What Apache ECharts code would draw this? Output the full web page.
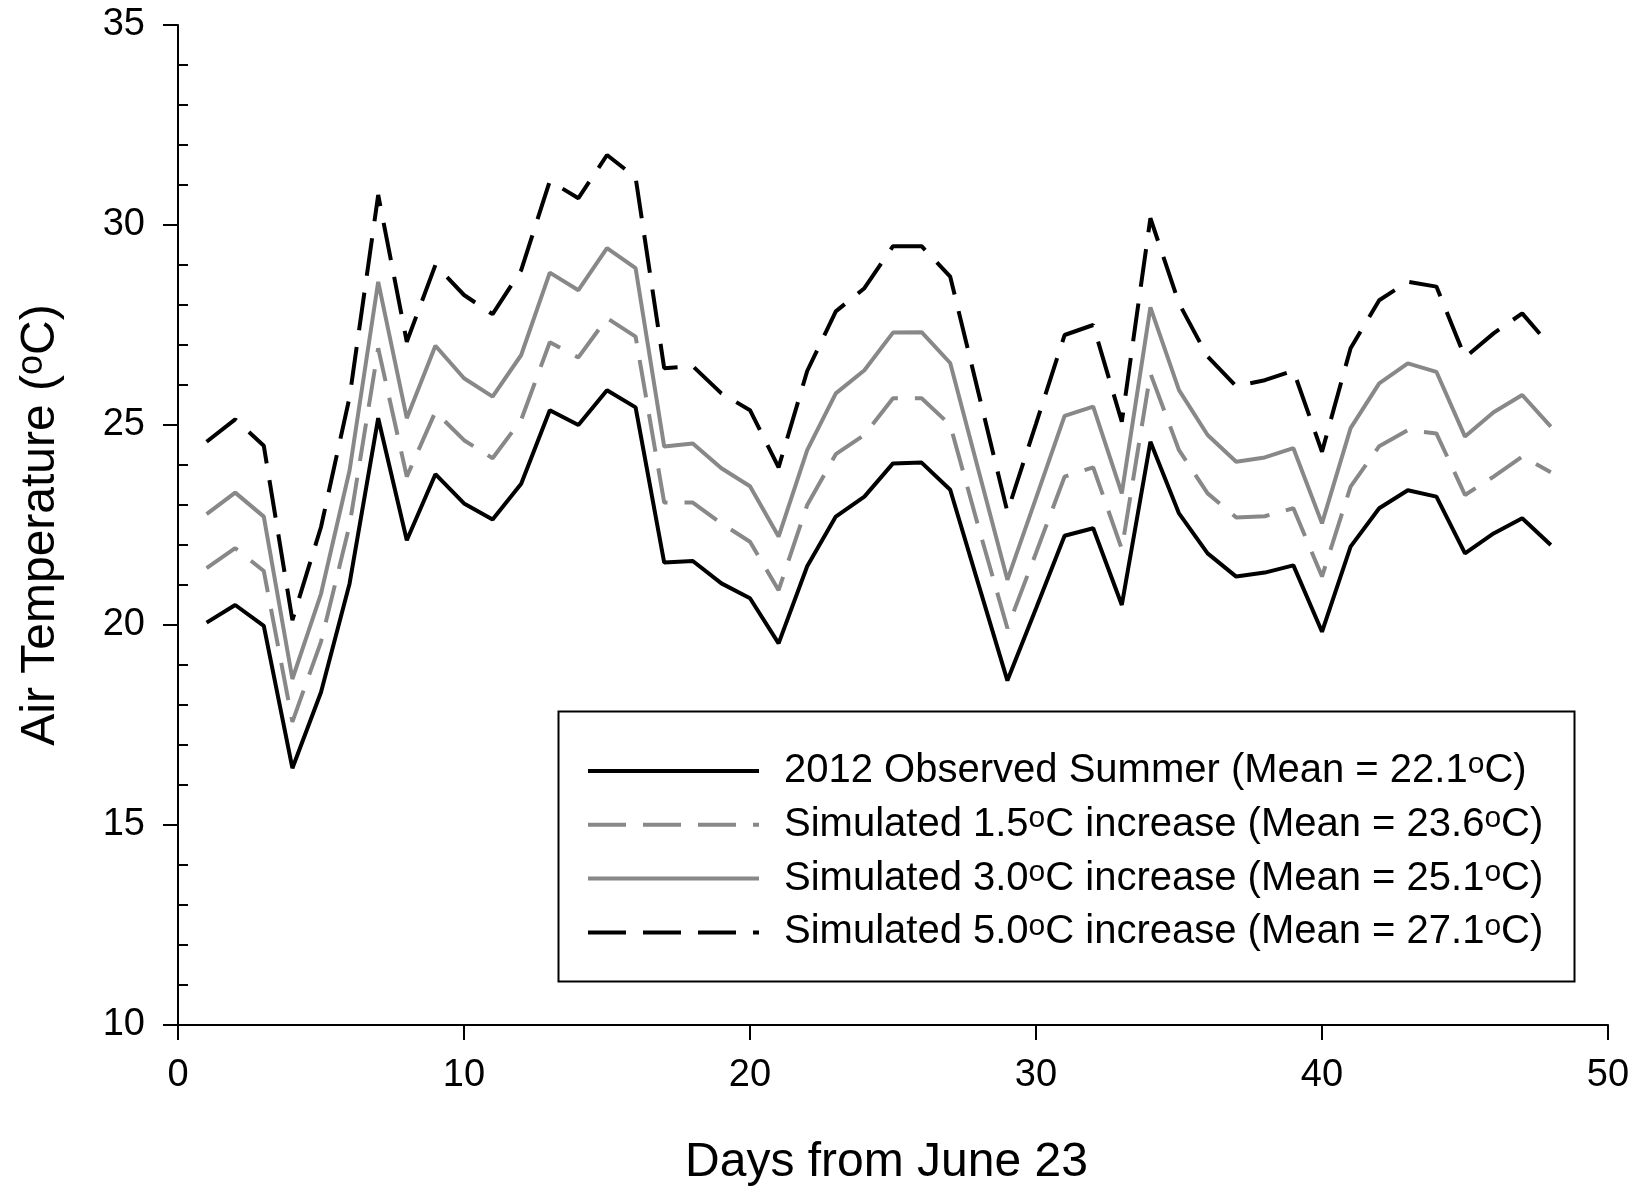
<!DOCTYPE html>
<html>
<head>
<meta charset="utf-8">
<script src="https://cdn.jsdelivr.net/npm/echarts@6/dist/echarts.min.js"></script>
<style>
html,body{margin:0;padding:0;background:#fff;}
#chart{width:1639px;height:1189px;}
</style>
</head>
<body>
<div id="chart"></div>
<script>
const days = [1,2,3,4,5,6,7,8,9,10,11,12,13,14,15,16,17,18,19,20,21,22,23,24,25,26,27,28,29,30,31,32,33,34,35,36,37,38,39,40,41,42,43,44,45,46,47,48];

const observed = [20.06,20.50,19.98,16.42,18.32,21.04,25.17,22.12,23.77,23.04,22.64,23.53,25.37,25.00,25.87,25.44,21.56,21.60,21.04,20.67,19.54,21.47,22.71,23.21,24.04,24.06,23.38,20.99,18.61,20.41,22.23,22.42,20.50,24.58,22.79,21.79,21.21,21.31,21.49,19.83,21.96,22.92,23.37,23.21,21.79,22.29,22.67,22.00];

const sim15 = [21.42,21.92,21.35,17.58,19.58,22.50,26.92,23.71,25.33,24.62,24.17,25.13,27.07,26.69,27.67,27.21,23.06,23.06,22.54,22.08,20.87,23.00,24.27,24.75,25.67,25.67,25.00,22.42,19.92,21.80,23.71,23.94,21.90,26.29,24.37,23.29,22.69,22.72,22.92,21.21,23.46,24.47,24.87,24.79,23.25,23.71,24.21,23.82];

const sim30 = [22.77,23.31,22.71,18.65,20.78,23.87,28.58,25.17,26.98,26.17,25.71,26.75,28.81,28.37,29.42,28.92,24.46,24.54,23.92,23.47,22.21,24.37,25.79,26.37,27.31,27.32,26.55,23.84,21.13,23.17,25.23,25.46,23.29,27.94,25.87,24.75,24.08,24.19,24.42,22.54,24.92,26.04,26.54,26.33,24.71,25.32,25.75,24.96];

const sim50 = [24.58,25.14,24.48,20.12,22.45,25.70,30.75,27.08,29.00,28.25,27.77,28.87,31.10,30.67,31.75,31.19,26.42,26.47,25.79,25.37,23.94,26.35,27.84,28.42,29.47,29.47,28.71,25.77,22.83,25.03,27.25,27.50,25.08,30.17,28.04,26.71,25.97,26.12,26.36,24.33,26.92,28.12,28.58,28.46,26.69,27.29,27.79,26.96];

const seriesNames = [
  '2012 Observed Summer (Mean = 22.1{sup|o}C)',
  'Simulated 1.5{sup|o}C increase (Mean = 23.6{sup|o}C)',
  'Simulated 3.0{sup|o}C increase (Mean = 25.1{sup|o}C)',
  'Simulated 5.0{sup|o}C increase (Mean = 27.1{sup|o}C)'
];

const xTicks = {min: 0, max: 50, interval: 10};
const yTicks = {min: 10, max: 35, interval: 5};

const FONT = '"Liberation Sans", Arial, Helvetica, sans-serif';
const GRAY = '#888888';
const DASH = [38, 17];

function pairs(vals){ return days.map((d, i) => [d, vals[i]]); }

const chart = echarts.init(document.getElementById('chart'), null, {renderer: 'canvas'});

const supStyle = (size, lh) => ({fontSize: size, fontFamily: FONT, color: '#000', verticalAlign: 'top', lineHeight: lh});

const option = {
  backgroundColor: '#ffffff',
  animation: false,
  grid: {left: 178, right: 31, top: 25, bottom: 164, containLabel: false, outerBoundsMode: 'none'},
  xAxis: {
    type: 'value',
    min: xTicks.min, max: xTicks.max, interval: xTicks.interval,
    name: 'Days from June 23',
    nameLocation: 'middle',
    nameGap: 114,
    nameTextStyle: {fontSize: 48, fontFamily: FONT, color: '#000', padding: [0, 13, 0, 0]},
    axisLine: {show: true, onZero: false, lineStyle: {color: '#000', width: 2}},
    axisTick: {show: true, inside: false, length: 15, lineStyle: {color: '#000', width: 2}},
    axisLabel: {fontSize: 38, fontFamily: FONT, color: '#000', margin: 32},
    splitLine: {show: false}
  },
  yAxis: {
    type: 'value',
    min: yTicks.min, max: yTicks.max, interval: yTicks.interval,
    name: 'Air Temperature ({sup|o}C)',
    nameLocation: 'middle',
    nameGap: 110,
    nameTextStyle: {
      fontSize: 48, fontFamily: FONT, color: '#000', lineHeight: 54,
      rich: {sup: supStyle(36, 24)}
    },
    axisLine: {show: true, onZero: false, lineStyle: {color: '#000', width: 2}},
    axisTick: {show: true, inside: false, length: 15, lineStyle: {color: '#000', width: 2}},
    minorTick: {show: true, splitNumber: 5, length: -10, lineStyle: {color: '#000', width: 2}},
    axisLabel: {fontSize: 38, fontFamily: FONT, color: '#000', margin: 33},
    splitLine: {show: false},
    minorSplitLine: {show: false}
  },
  legend: {
    show: true,
    orient: 'vertical',
    left: 586,
    top: 750,
    padding: 0,
    itemGap: 11.8,
    itemWidth: 171,
    itemHeight: 20,
    selectedMode: false,
    itemStyle: {opacity: 0, color: 'rgba(0,0,0,0)', borderWidth: 0},
    lineStyle: {width: 4},
    textStyle: {
      fontSize: 40, fontFamily: FONT, color: '#000', lineHeight: 42,
      padding: [0, 0, 0, 20],
      rich: {sup: supStyle(30, 18)}
    },
    data: seriesNames
  },
  graphic: [{
    type: 'rect',
    left: 556, top: 709,
    shape: {width: 1016, height: 270},
    style: {fill: 'none', stroke: '#000', lineWidth: 2},
    z: 100
  }],
  series: [
    {name: seriesNames[0], type: 'line', data: pairs(observed), showSymbol: false, symbol: 'none',
     lineStyle: {color: '#000', width: 4, type: 'solid'}, itemStyle: {color: '#000'}, z: 4},
    {name: seriesNames[1], type: 'line', data: pairs(sim15), showSymbol: false, symbol: 'none',
     lineStyle: {color: GRAY, width: 4, type: DASH}, itemStyle: {color: GRAY}, z: 3},
    {name: seriesNames[2], type: 'line', data: pairs(sim30), showSymbol: false, symbol: 'none',
     lineStyle: {color: GRAY, width: 4, type: 'solid'}, itemStyle: {color: GRAY}, z: 3},
    {name: seriesNames[3], type: 'line', data: pairs(sim50), showSymbol: false, symbol: 'none',
     lineStyle: {color: '#000', width: 4, type: DASH}, itemStyle: {color: '#000'}, z: 4}
  ]
};
chart.setOption(option);
</script>
</body>
</html>
